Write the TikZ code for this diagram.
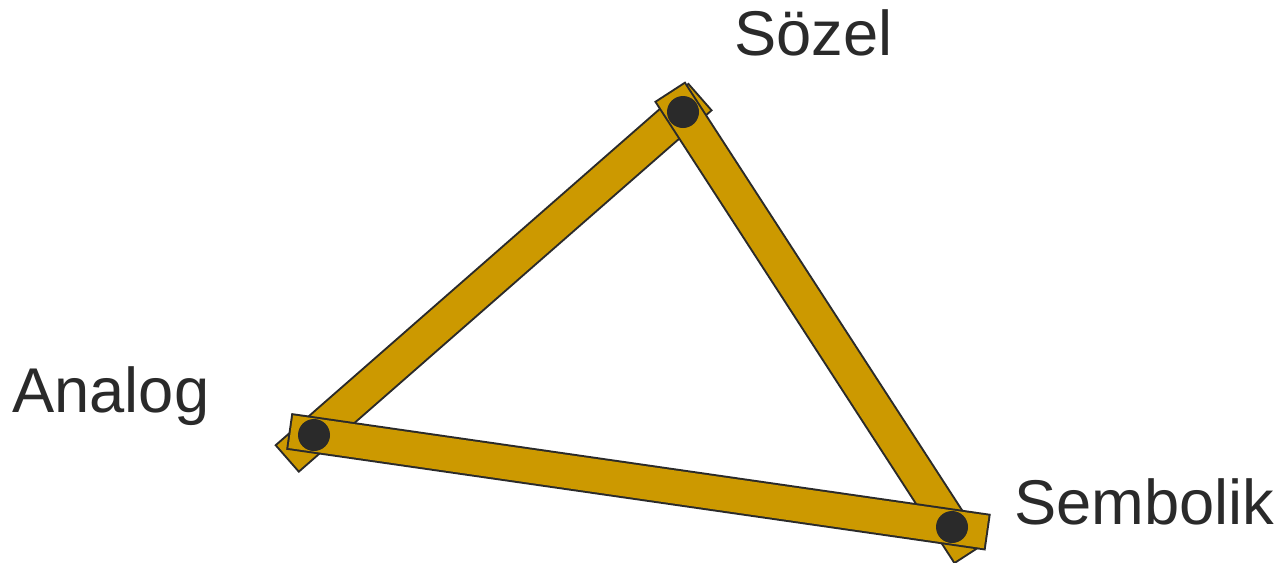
\documentclass[tikz,border=0pt]{standalone}
\usepackage{fontspec}
\setmainfont{Liberation Sans}
\usetikzlibrary{positioning}
\definecolor{barfill}{RGB}{204,153,0}
\definecolor{ink}{RGB}{42,42,42}
\begin{document}
\begin{tikzpicture}[x=0.02cm, y=-0.02cm,
    bar/.style={draw=ink, line width=0.04cm, double=barfill,
                double distance=0.66cm, line cap=rect},
    dot/.style={circle, fill=ink, inner sep=0pt, minimum size=0.64cm},
    lbl/.style={anchor=base west, inner sep=0pt, text=ink,
                font=\fontsize{36pt}{43pt}\selectfont}
  ]
    \useasboundingbox (0,0) rectangle (1283,562);
    \coordinate (analog) at (314,435);
    \coordinate (sozel) at (683,112);
    \coordinate (sembolik) at (952,527);

    \draw[bar, shorten <=-0.36cm, shorten >=-0.10cm] (analog) -- (sozel);
    \draw[bar, shorten <=-0.12cm, shorten >=-0.28cm] (sozel) -- (sembolik);
    \draw[bar, shorten <=-0.14cm, shorten >=-0.36cm] (analog) -- (sembolik);

    \node[dot] (analogdot) at (analog) {};
    \node[dot] (sozeldot) at (sozel) {};
    \node[dot] (sembolikdot) at (sembolik) {};

    \node[lbl] (sozellbl) at (734,55) {Sözel};
    \node[lbl] (analoglbl) at (12,412) {Analog};
    \node[lbl] (semboliklbl) at (1014,524) {Sembolik};
  \end{tikzpicture}
\end{document}
